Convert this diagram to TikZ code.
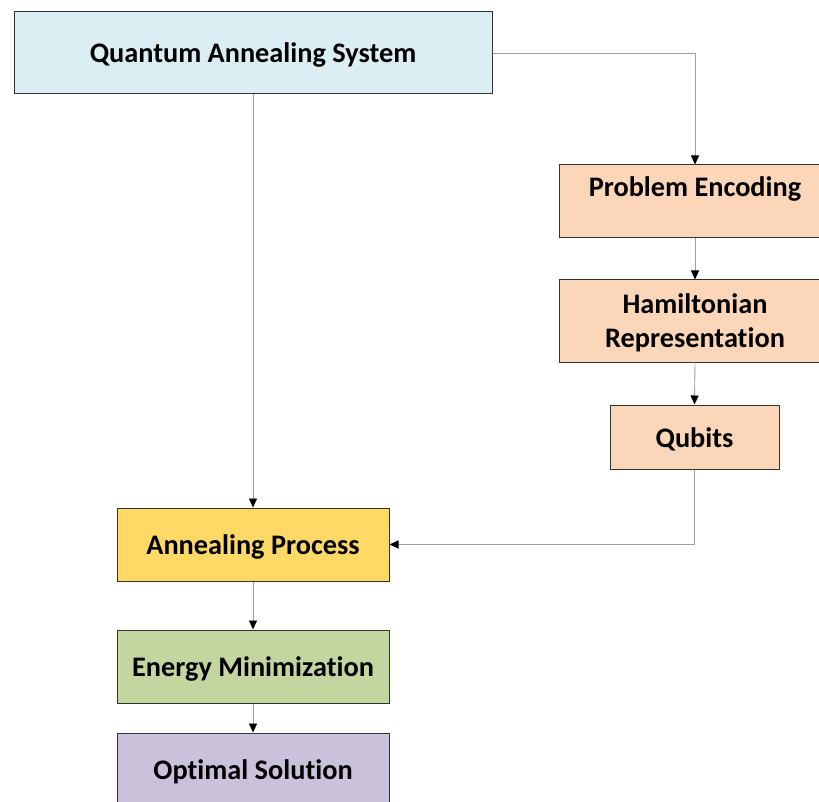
\documentclass[tikz,border=0pt]{standalone}
\usepackage{fontspec}
\setmainfont{Carlito}[Ligatures={NoCommon}]
\usetikzlibrary{arrows.meta}
\definecolor{qblue}{HTML}{DAEEF3}
\definecolor{qpeach}{HTML}{FBD6B8}
\definecolor{qyellow}{HTML}{FED966}
\definecolor{qgreen}{HTML}{C4D69F}
\definecolor{qpurple}{HTML}{CCC1DA}
\definecolor{qborder}{HTML}{333333}
\definecolor{qline}{HTML}{9E9E9E}
\newcommand\dnline[1]{\raisebox{-2pt}[\height][\depth]{#1}}
\tikzset{
  box/.style={draw=qborder, line width=1pt, inner sep=0pt, align=center,
    font=\fontsize{28.3}{34}\selectfont\bfseries, text=black},
  conn/.style={draw=qline, line width=0.9pt, -{Triangle[length=9pt,width=8pt,black]}}
}
\begin{document}
\begin{tikzpicture}[x=1pt,y=-1pt]
\useasboundingbox (0,0) rectangle (819,802);
\clip (0,0) rectangle (819,802);
\node[box, fill=qblue, minimum width=478pt, minimum height=82pt] (qas) at (253,53) {\dnline{Quantum Annealing System}};
\node[box, fill=qpeach, minimum width=272pt, minimum height=73pt] (pe) at (695,201.5) {\dnline{Problem Encoding}\\\mbox{}};
\node[box, fill=qpeach, minimum width=272pt, minimum height=82pt] (hr) at (695,321) {\dnline{Hamiltonian}\\\dnline{Representation}};
\node[box, fill=qpeach, minimum width=169pt, minimum height=64pt] (qb) at (694.5,437) {\dnline{Qubits}};
\node[box, fill=qyellow, minimum width=272pt, minimum height=73pt] (ap) at (253,544.5) {\dnline{Annealing Process}};
\node[box, fill=qgreen, minimum width=272pt, minimum height=73pt] (em) at (253,666.5) {\dnline{Energy Minimization}};
\node[box, fill=qpurple, minimum width=272pt, minimum height=73pt] (os) at (253,769.5) {\dnline{Optimal Solution}};
\draw[conn] (qas.east) -| (pe.north);
\draw[conn] (qas.south) -- (ap.north);
\draw[conn] (pe.south) -- (hr.north);
\draw[conn] (hr.south) -- (qb.north);
\draw[conn] (qb.south) |- (ap.east);
\draw[conn] (ap.south) -- (em.north);
\draw[conn] (em.south) -- (os.north);
\end{tikzpicture}
\end{document}
